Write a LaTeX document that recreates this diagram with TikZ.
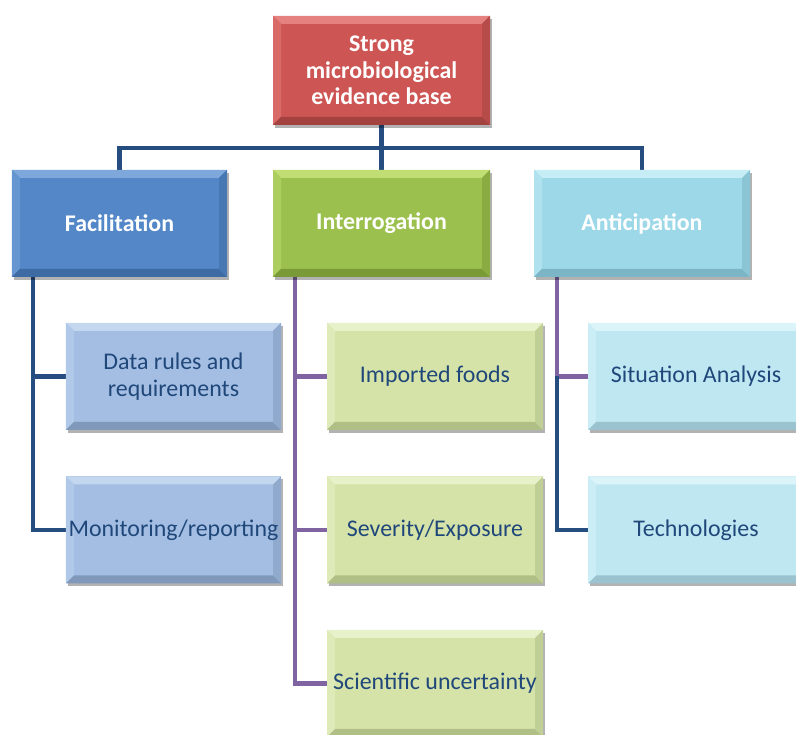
\documentclass[tikz,border=0pt]{standalone}
\usepackage{fontspec}
\setmainfont{Carlito}
\usetikzlibrary{backgrounds,shadows}

% fills: main / bevel light / bevel dark
\definecolor{rootM}{HTML}{CD5654}\definecolor{rootL}{HTML}{E5827F}\definecolor{rootD}{HTML}{A44240}
\definecolor{facM}{HTML}{5387C7}\definecolor{facL}{HTML}{7EA8DC}\definecolor{facD}{HTML}{3E6BA3}
\definecolor{intM}{HTML}{9CC04E}\definecolor{intL}{HTML}{C0DE74}\definecolor{intD}{HTML}{7A9A38}
\definecolor{antM}{HTML}{9DD8E8}\definecolor{antL}{HTML}{C6EDF6}\definecolor{antD}{HTML}{7CB5C5}
\definecolor{fchM}{HTML}{A3BEE2}\definecolor{fchL}{HTML}{C3D7EF}\definecolor{fchD}{HTML}{8099BB}
\definecolor{ichM}{HTML}{D5E3A8}\definecolor{ichL}{HTML}{E8F2CA}\definecolor{ichD}{HTML}{AFBF86}
\definecolor{achM}{HTML}{BFE7F2}\definecolor{achL}{HTML}{DAF4FA}\definecolor{achD}{HTML}{9AC3CF}
\definecolor{lineBlue}{HTML}{264D7F}
\definecolor{linePurple}{HTML}{8064A2}
\definecolor{txtBlue}{HTML}{1F477A}

\tikzset{
  bev/.style n args={3}{
    rectangle, inner sep=0pt, align=center,
    minimum width=216bp, minimum height=107bp,
    fill=#1,
    drop shadow={shadow xshift=2bp, shadow yshift=-3bp, opacity=0.3, fill=black},
    path picture={
      \coordinate (bnw) at (path picture bounding box.north west);
      \coordinate (bne) at (path picture bounding box.north east);
      \coordinate (bsw) at (path picture bounding box.south west);
      \coordinate (bse) at (path picture bounding box.south east);
      \fill[#2] (bnw) -- (bne) -- ([shift={(-8bp,-8bp)}]bne) -- ([shift={(8bp,-8bp)}]bnw) -- cycle;
      \fill[#2!45!#1] (bnw) -- ([shift={(8bp,-8bp)}]bnw) -- ([shift={(8bp,8bp)}]bsw) -- (bsw) -- cycle;
      \fill[#3] (bsw) -- (bse) -- ([shift={(-8bp,8bp)}]bse) -- ([shift={(8bp,8bp)}]bsw) -- cycle;
      \fill[#3!55!#1] (bne) -- ([shift={(-8bp,-8bp)}]bne) -- ([shift={(-8bp,8bp)}]bse) -- (bse) -- cycle;
    }},
  headbox/.style={font=\fontsize{24}{26.5}\selectfont\bfseries, text=white},
  childbox/.style={font=\fontsize{24}{27}\selectfont, text=txtBlue},
  conn/.style={line width=4.5bp},
}

\begin{document}
\begin{tikzpicture}[x=1bp,y=1bp]
\useasboundingbox (0,0) rectangle (796,735);
\clip (0,0) rectangle (796,735);

% top of the hierarchy
\node[bev={rootM}{rootL}{rootD}, headbox, minimum width=217bp, minimum height=109bp]
  (root) at (381.5,664.5) {Strong\\microbiological\\evidence base};

% three pillars
\node[bev={facM}{facL}{facD}, headbox, minimum width=215bp] (fac) at (119.5,511.5) {Facilitation};
\node[bev={intM}{intL}{intD}, headbox, minimum width=217bp] (int) at (381.5,511.5) {Interrogation};
\node[bev={antM}{antL}{antD}, headbox] (ant) at (642,511.5) {Anticipation};

% facilitation items
\node[bev={fchM}{fchL}{fchD}, childbox, minimum width=215bp] (rules) at (173.5,358.5) {Data rules and\\requirements};
\node[bev={fchM}{fchL}{fchD}, childbox, minimum width=215bp] (monit) at (173.5,205) {Monitoring/reporting};

% interrogation items
\node[bev={ichM}{ichL}{ichD}, childbox] (foods) at (435,358.5) {Imported foods};
\node[bev={ichM}{ichL}{ichD}, childbox] (sever) at (435,205) {Severity/Exposure};
\node[bev={ichM}{ichL}{ichD}, childbox] (uncert) at (435,51.5) {Scientific uncertainty};

% anticipation items
\node[bev={achM}{achL}{achD}, childbox] (situ) at (696,358.5) {Situation Analysis};
\node[bev={achM}{achL}{achD}, childbox] (tech) at (696,205) {Technologies};

% connectors
\begin{scope}[on background layer]
  \coordinate (bus) at (381,587);
  \draw[conn, lineBlue] (root.south) -- (int.north);
  \draw[conn, lineBlue] (fac.north) -- (fac.north |- bus) -- (ant.north |- bus) -- (ant.north);

  \coordinate (fspine) at ([xshift=21bp]fac.south west);
  \draw[conn, lineBlue] (fspine) |- (rules.west);
  \draw[conn, lineBlue] (fspine) |- (monit.west);

  \coordinate (ispine) at ([xshift=22bp]int.south west);
  \draw[conn, linePurple] (ispine) |- (foods.west);
  \draw[conn, linePurple] (ispine) |- (sever.west);
  \draw[conn, linePurple] (ispine) |- (uncert.west);

  \coordinate (aspine) at ([xshift=23bp]ant.south west);
  \draw[conn, linePurple] (aspine) |- (situ.west);
  \draw[conn, lineBlue] (aspine |- situ.west) |- (tech.west);
\end{scope}
\end{tikzpicture}
\end{document}
